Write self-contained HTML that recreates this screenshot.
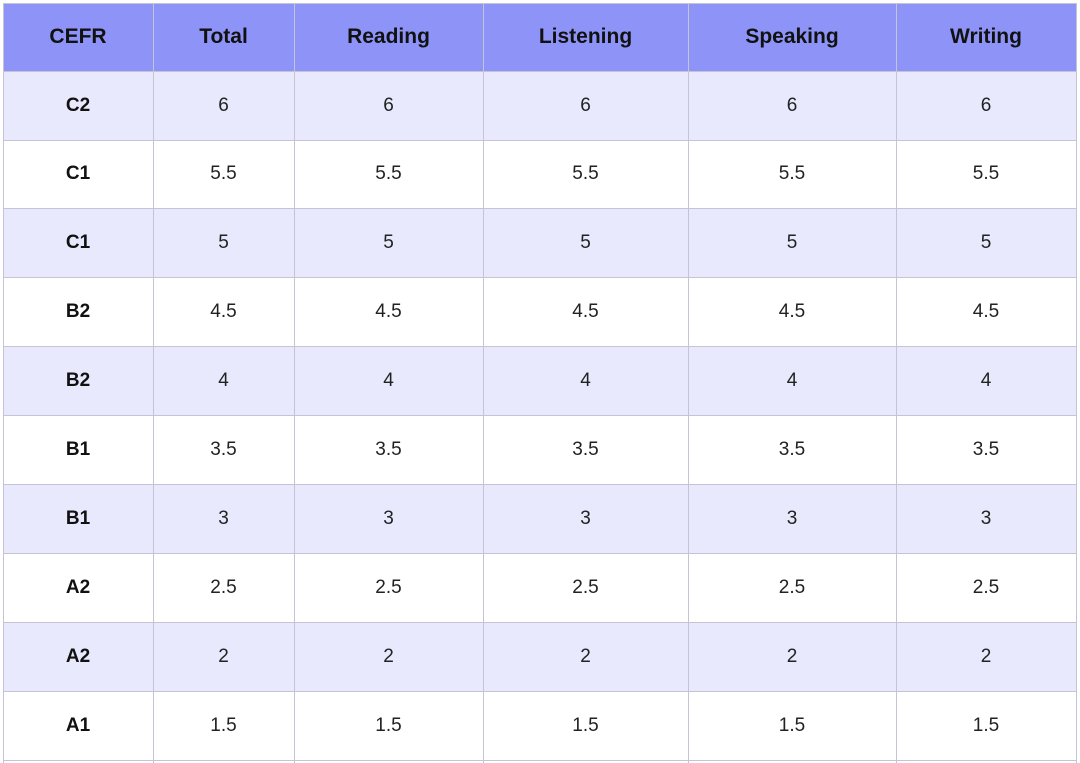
<!DOCTYPE html>
<html><head><style>
html,body{margin:0;width:1080px;height:763px;overflow:hidden}
body{background:#fff;font-family:"Liberation Sans",sans-serif;position:relative}
.c{position:absolute;display:flex;align-items:center;justify-content:center;box-sizing:border-box;font-size:19px;color:#222}
.h{background:#8e94f7;font-weight:bold;font-size:21px;color:#111}
.a{background:#e8e9fc}
.b{font-weight:bold;color:#111}
.v{position:absolute;width:1px;background:#c4c4d4}
.l{position:absolute;height:1px;background:#c4c4d4}
</style></head><body>
<div id="t"></div>
<script>
var xs=[3,153,294,483,688,896,1076];
var ys=[3,71,140,208,277,346,415,484,553,622,691,760];
var head=["CEFR","Total","Reading","Listening","Speaking","Writing"];
var rows=[["C2","6"],["C1","5.5"],["C1","5"],["B2","4.5"],["B2","4"],["B1","3.5"],["B1","3"],["A2","2.5"],["A2","2"],["A1","1.5"]];
var h="";
for(var r=0;r<11;r++){
var cls0=r==0?" h":(r%2==1?" a":"");
h+='<div class="c'+cls0+'" style="left:3px;top:'+ys[r]+'px;width:1073px;height:'+(ys[r+1]-ys[r])+'px"></div>';
for(var c=0;c<6;c++){
var cls="c",txt;
if(r==0){cls+=" h";txt=head[c];}else{if(c==0)cls+=" b";txt=c==0?rows[r-1][0]:rows[r-1][1];}
h+='<div class="'+cls+'" style="background:none;left:'+xs[c]+'px;top:'+ys[r]+'px;width:'+(xs[c+1]-xs[c])+'px;height:'+(ys[r+1]-ys[r])+'px">'+txt+'</div>';
}}
for(var i=0;i<xs.length;i++)h+='<div class="v" style="left:'+xs[i]+'px;top:3px;height:760px"></div>';
for(var j=0;j<ys.length;j++)h+='<div class="l" style="top:'+ys[j]+'px;left:3px;width:1074px"></div>';
document.getElementById("t").innerHTML=h;
</script>
</body></html>
